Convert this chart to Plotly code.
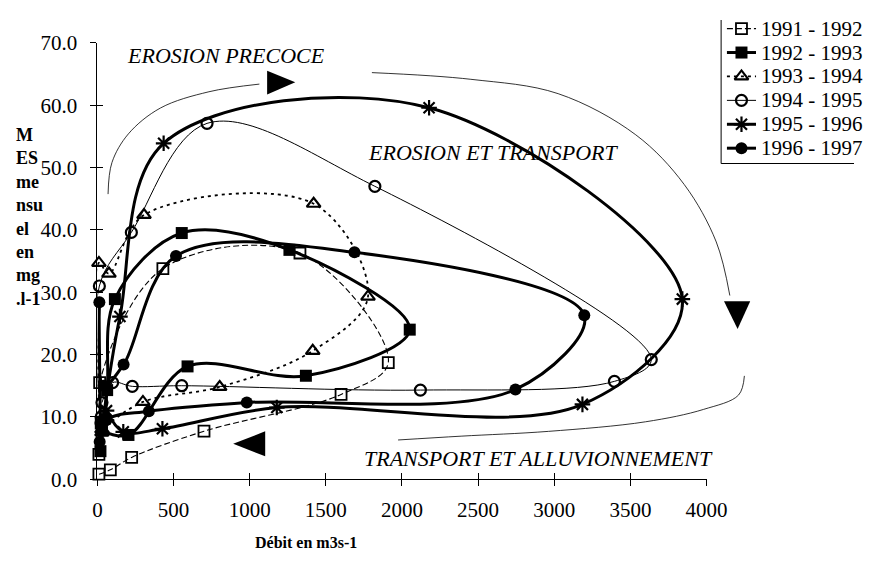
import plotly.graph_objects as go

# ---------------- data ----------------
years = ["1991 - 1992", "1992 - 1993", "1993 - 1994", "1994 - 1995", "1995 - 1996", "1996 - 1997"]

q_9192 = [10, 25, 15, 430, 1330, 1910, 1600, 700, 225, 85, 10]
c_9192 = [4.0, 9.0, 15.5, 33.8, 36.3, 18.7, 13.6, 7.7, 3.5, 1.5, 0.8]

q_9293 = [20, 64, 115, 554, 1261, 2051, 1369, 592, 204, 30]
c_9293 = [4.5, 14.3, 28.9, 39.5, 36.8, 24.0, 16.6, 18.1, 7.1, 7.8]

q_9394 = [30, 10, 76, 306, 1420, 1777, 1414, 803, 299, 30]
c_9394 = [7.5, 34.7, 33.0, 42.4, 44.2, 29.3, 20.6, 14.8, 12.4, 8.0]

q_9495 = [25, 13, 223, 720, 1822, 3637, 3395, 2121, 554, 229, 100, 30]
c_9495 = [10.0, 31.0, 39.6, 57.1, 47.0, 19.2, 15.7, 14.3, 15.0, 14.9, 15.5, 12.3]

q_9596 = [40, 148, 435, 2178, 3841, 3185, 1178, 427, 170, 60]
c_9596 = [10.0, 26.1, 53.9, 59.6, 28.9, 12.0, 11.5, 8.1, 7.6, 11.0]

q_9697 = [20, 13, 40, 172, 516, 1688, 3197, 2745, 981, 338, 60, 15]
c_9697 = [9.0, 28.4, 15.0, 18.4, 35.8, 36.4, 26.3, 14.4, 12.3, 10.9, 9.5, 6.0]

x_ticks = [0, 500, 1000, 1500, 2000, 2500, 3000, 3500, 4000]
y_ticks = [0, 10, 20, 30, 40, 50, 60, 70]
y_ticklabels = ["0.0", "10.0", "20.0", "30.0", "40.0", "50.0", "60.0", "70.0"]

region_labels = ["EROSION PRECOCE", "EROSION ET TRANSPORT", "TRANSPORT ET ALLUVIONNEMENT"]
x_title = "Débit en m3s-1"
y_title_lines = ["M", "ES", "me", "nsu", "el", "en", "mg", ".l-1"]

# ---------------- layout helpers ----------------
OFF = 8                      # default page body margin
W, H = 883 - 2 * OFF, 570 - 2 * OFF
PX_L, PX_R, PY_T, PY_B = 95 - OFF, 723 - OFF, 32 - OFF, 488 - OFF
SERIF = "Liberation Serif, Times New Roman, serif"

x_dom = [PX_L / W, PX_R / W]
y_dom = [(H - PY_B) / H, (H - PY_T) / H]


def px(v):
    return v - OFF


fig = go.Figure()

styles = [
    dict(line=dict(color="black", width=1.1, dash="6px,3px"),
         marker=dict(symbol="square-open", size=11, color="black", line=dict(width=1.8, color="black"))),
    dict(line=dict(color="black", width=3),
         marker=dict(symbol="square", size=12, color="black")),
    dict(line=dict(color="black", width=1.8, dash="3px,4px"),
         marker=dict(symbol="triangle-up-open", size=12, color="black", line=dict(width=2.2, color="black"))),
    dict(line=dict(color="black", width=1),
         marker=dict(symbol="circle-open", size=11, color="black", line=dict(width=2.2, color="black"))),
    dict(line=dict(color="black", width=3),
         marker=dict(symbol="asterisk-open", size=13, color="black", line=dict(width=2.2, color="black"))),
    dict(line=dict(color="black", width=3),
         marker=dict(symbol="circle", size=12, color="black")),
]
series = [(q_9192, c_9192), (q_9293, c_9293), (q_9394, c_9394),
          (q_9495, c_9495), (q_9596, c_9596), (q_9697, c_9697)]

for name, (q, c), st in zip(years, series, styles):
    ln = dict(st["line"])
    ln["shape"] = "spline"
    ln["smoothing"] = 1.0
    fig.add_trace(go.Scatter(x=q, y=c, mode="lines+markers", name=name,
                             line=ln, marker=st["marker"], cliponaxis=False,
                             showlegend=False, xaxis="x", yaxis="y"))

# ---- decorative direction arrows (full-page pixel axes x2/y2) ----
arc1 = ([106, 110, 127, 160, 210, 262], [190, 157, 127, 100, 83, 75])
arc2 = ([378, 480, 570, 650, 700, 733, 747], [63, 70, 85, 128, 180, 240, 296])
arc3 = ([762, 756, 720, 660, 560, 470, 405], [380, 400, 415, 428, 438, 443, 447])
for ax_, ay_ in (arc1, arc2, arc3):
    fig.add_trace(go.Scatter(x=[px(v) for v in ax_], y=[px(v) for v in ay_], mode="lines",
                             xaxis="x2", yaxis="y2",
                             line=dict(color="black", width=0.8, shape="spline"),
                             showlegend=False, hoverinfo="skip"))

# ---- legend drawn as a key box (pixel axes) ----
LEG_L, LEG_T, LEG_R, LEG_B = 738, 3, 881, 158
leg_rows = [17, 42, 67, 92, 117, 142]
LINE_X0, LINE_X1, MARK_X, TEXT_X = 744, 774, 759, 777
for name, st, ry in zip(years, styles, leg_rows):
    fig.add_trace(go.Scatter(x=[px(LINE_X0), px(LINE_X1)], y=[px(ry), px(ry)], mode="lines",
                             xaxis="x2", yaxis="y2", line=st["line"], cliponaxis=False,
                             showlegend=False, hoverinfo="skip"))
    fig.add_trace(go.Scatter(x=[px(MARK_X)], y=[px(ry)], mode="markers",
                             xaxis="x2", yaxis="y2", marker=st["marker"], cliponaxis=False,
                             showlegend=False, hoverinfo="skip"))

# dummy trace for the inner-tick overlay axes
fig.add_trace(go.Scatter(x=[None], y=[None], xaxis="x3", yaxis="y3",
                         showlegend=False, hoverinfo="skip"))


def tri(points):
    p = ["%s %.1f,%.1f" % ("M" if i == 0 else "L", px(a), px(b)) for i, (a, b) in enumerate(points)]
    return " ".join(p) + " Z"


shapes = [
    dict(type="rect", xref="x2", yref="y2", x0=px(LEG_L), x1=px(LEG_R), y0=px(LEG_T), y1=px(LEG_B),
         line=dict(color="black", width=1), fillcolor="white", layer="below"),
    dict(type="path", xref="x2", yref="y2", path=tri([(270, 61), (299, 73), (270, 86)]),
         fillcolor="black", line=dict(width=0)),
    dict(type="path", xref="x2", yref="y2", path=tri([(741, 302), (768, 302), (755, 331)]),
         fillcolor="black", line=dict(width=0)),
    dict(type="path", xref="x2", yref="y2", path=tri([(235, 451), (268, 438), (268, 464)]),
         fillcolor="black", line=dict(width=0)),
]

annotations = [
    dict(text="<i>%s</i>" % region_labels[0], x=px(228), y=px(45), xref="x2", yref="y2",
         showarrow=False, font=dict(family=SERIF, size=22, color="black")),
    dict(text="<i>%s</i>" % region_labels[1], x=px(503), y=px(147), xref="x2", yref="y2",
         showarrow=False, font=dict(family=SERIF, size=22, color="black")),
    dict(text="<i>%s</i>" % region_labels[2], x=px(550), y=px(466), xref="x2", yref="y2",
         showarrow=False, font=dict(family=SERIF, size=22, color="black")),
    dict(text="<b>" + "<br>".join(y_title_lines) + "</b>", x=px(9), y=px(214),
         xref="x2", yref="y2", xanchor="left", yanchor="middle", align="left",
         showarrow=False, font=dict(family=SERIF, size=18, color="black")),
    dict(text="<b>%s</b>" % x_title, x=px(310), y=px(554), xref="x2", yref="y2",
         showarrow=False, font=dict(family=SERIF, size=16, color="black")),
]
for name, ry in zip(years, leg_rows):
    annotations.append(dict(text=name, x=px(TEXT_X), y=px(ry), xref="x2", yref="y2",
                            xanchor="left", yanchor="middle", showarrow=False,
                            font=dict(family=SERIF, size=21, color="black")))

fig.update_layout(
    width=W, height=H, autosize=False,
    margin=dict(l=0, r=0, t=0, b=0),
    paper_bgcolor="white", plot_bgcolor="rgba(0,0,0,0)",
    font=dict(family=SERIF, size=21, color="black"),
    showlegend=False,
    xaxis=dict(domain=x_dom, range=[0, 4000], tickvals=x_ticks, ticks="outside",
               ticklen=6, tickcolor="black", showline=True, linecolor="black",
               linewidth=1, showgrid=False, zeroline=False, ticklabelstandoff=6,
               tickfont=dict(family=SERIF, size=21), anchor="y"),
    yaxis=dict(domain=y_dom, range=[0, 70], tickvals=y_ticks, ticktext=y_ticklabels,
               ticks="outside", ticklen=6, tickcolor="black", showline=True,
               linecolor="black", linewidth=1, showgrid=False, zeroline=False,
               ticklabelstandoff=9, tickfont=dict(family=SERIF, size=21), anchor="x"),
    xaxis3=dict(domain=x_dom, range=[0, 4000], tickvals=x_ticks, ticks="inside",
                ticklen=6, tickcolor="black", showticklabels=False, showgrid=False,
                zeroline=False, showline=False, overlaying="x", anchor="y3"),
    yaxis3=dict(domain=y_dom, range=[0, 70], tickvals=y_ticks, ticks="inside",
                ticklen=6, tickcolor="black", showticklabels=False, showgrid=False,
                zeroline=False, showline=False, overlaying="y", anchor="x3"),
    xaxis2=dict(domain=[0, 1], range=[0, W], visible=False, anchor="y2", fixedrange=True),
    yaxis2=dict(domain=[0, 1], range=[H, 0], visible=False, anchor="x2", fixedrange=True),
    shapes=shapes,
    annotations=annotations,
)

fig.write_html("out.html")
